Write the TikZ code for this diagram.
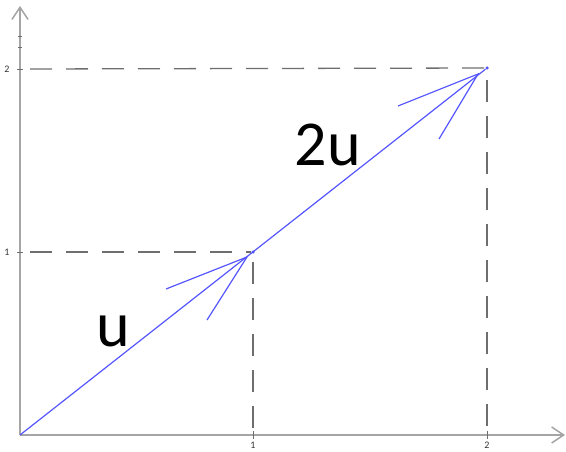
\documentclass[tikz,border=0pt]{standalone}
\usepackage{fontspec}
\setmainfont{Carlito}
\usetikzlibrary{arrows.meta}
\definecolor{vecblue}{RGB}{85,85,255}
\definecolor{axgray}{RGB}{165,165,165}
\definecolor{dashgray}{RGB}{110,110,110}
\begin{document}
\begin{tikzpicture}[x=1pt,y=-1pt,
  axis/.style={draw=axgray, line width=1.8pt, -{Straight Barb[length=12pt,width=16pt,line width=1.5pt]}},
  tickmark/.style={draw=dashgray, line width=0.8pt},
  guide/.style={draw=dashgray, line width=1.3pt, dash pattern=on 22pt off 14pt},
  vec/.style={draw=vecblue, line width=1.2pt},
  dot/.style={circle, fill=vecblue, inner sep=0pt, minimum size=3.5pt},
  big/.style={font=\fontsize{64}{64}\selectfont, text=black, anchor=base, inner sep=0pt},
  ticklabel/.style={font=\fontsize{10}{10}\selectfont, text=black!80, inner sep=0pt}]
\useasboundingbox (0,0) rectangle (566,452);
% key points
\coordinate (O) at (20,435);
\coordinate (XE) at (565,435);
\coordinate (YE) at (20,6);
\node[dot] (P1) at (253,252) {};
\node[dot] (P2) at (487,68) {};
% axes
\draw[axis] (O) -- (XE);
\draw[axis] (O) -- (YE);
% ticks
\draw[tickmark] (253,431) -- (253,439);
\draw[tickmark] (487,431) -- (487,439);
\draw[tickmark] (17,252) -- (23,252);
\draw[tickmark] (17,69) -- (23,69);
\draw[tickmark] (18,36) -- (22,36);
\draw[tickmark] (18,47) -- (22,47);
% tick labels
\node[ticklabel] (t1x) at (253,445) {1};
\node[ticklabel] (t2x) at (487,445) {2};
\node[ticklabel] (t1y) at (7,252) {1};
\node[ticklabel] (t2y) at (7,69) {2};
% guide lines
\coordinate (H1s) at (30,252);
\coordinate (H2s) at (30,69);
\coordinate (V1s) at (253,262);
\coordinate (V1e) at (253,432);
\coordinate (V2s) at (487,80);
\coordinate (V2e) at (487,432);
\draw[guide] (H1s) -- (P1.west);
\draw[guide] (H2s) -- (P2.west);
\draw[guide] (V1s) -- (V1e);
\draw[guide] (V2s) -- (V2e);
% vector
\draw[vec] (O) -- (P2);
% open arrowheads
\coordinate (A1) at (247,257);
\coordinate (A2) at (478,74);
\draw[vec] (166,289) -- (A1) -- (207,320);
\draw[vec] (398,106) -- (A2) -- (439,139);
% labels
\node[big] (lu) at (113,346) {u};
\node[big] (l2u) at (328,165) {2u};
\end{tikzpicture}
\end{document}
